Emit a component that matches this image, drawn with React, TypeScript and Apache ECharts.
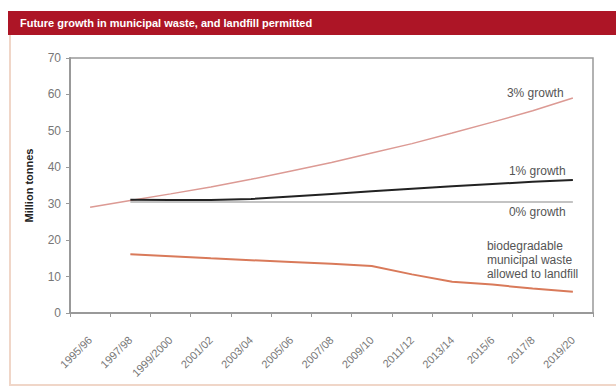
import React, { useEffect, useRef } from "react";
import * as echarts from "echarts";

const categories = [
  "1995/96", "1997/98", "1999/2000", "2001/02", "2003/04", "2005/06", "2007/08",
  "2009/10", "2011/12", "2013/14", "2015/6", "2017/8", "2019/20",
];
const growth3 = [29.0, 30.9, 32.7, 34.6, 36.7, 39.0, 41.3, 43.9, 46.5, 49.4, 52.4, 55.5, 59.0];
const growth1 = [null, 31.1, 31.0, 31.0, 31.3, 32.0, 32.7, 33.4, 34.1, 34.8, 35.4, 36.0, 36.5];
const growth0 = [null, 30.5, 30.5, 30.5, 30.5, 30.5, 30.5, 30.5, 30.5, 30.5, 30.5, 30.5, 30.5];
const biodegradable = [null, 16.1, 15.6, 15.0, 14.5, 14.0, 13.5, 12.9, 10.6, 8.6, 7.8, 6.7, 5.8];
const yTicks = { min: 0, max: 70, interval: 10 };
const title = "Future growth in municipal waste, and landfill permitted";

const FONT = "'Liberation Sans', Arial, sans-serif";

export default function App() {
  const ref = useRef<HTMLDivElement>(null);
  useEffect(() => {
    if (!ref.current) return;
    const chart = echarts.init(ref.current, null, { renderer: "svg" });
    const labelStyle = { color: "#555", fontSize: 12, fontFamily: FONT };
    chart.setOption({
      animation: false,
      backgroundColor: "#fff",
      textStyle: { fontFamily: FONT },
      graphic: [
        { type: "rect", shape: { x: 8, y: 11, width: 608, height: 24 }, style: { fill: "#ad1526" }, silent: true },
        { type: "text", x: 20, y: 23, style: { text: title, fill: "#fff", font: `bold 11px ${FONT}`, verticalAlign: "middle" } },
        { type: "polyline", shape: { points: [[10, 35], [10, 385], [616, 385]] }, style: { stroke: "#f0d6c8", lineWidth: 2, fill: "none" } },
      ],
      grid: { left: 70, right: 23, top: 58, bottom: 75, show: true, borderColor: "#999", borderWidth: 1.5 },
      xAxis: {
        type: "category",
        data: categories,
        boundaryGap: true,
        axisLine: { lineStyle: { color: "#999", width: 2 } },
        axisTick: { show: true, length: 4, lineStyle: { color: "#999" } },
        axisLabel: { rotate: 45, margin: 25, color: "#777", fontSize: 11, fontFamily: FONT, interval: 0 },
        splitLine: { show: false },
      },
      yAxis: {
        type: "value",
        ...yTicks,
        name: "Million tonnes",
        nameLocation: "middle",
        nameRotate: 90,
        nameGap: 36,
        nameTextStyle: { fontWeight: "bold", fontSize: 11, color: "#222", fontFamily: FONT },
        axisLine: { show: true, lineStyle: { color: "#999", width: 2 } },
        axisTick: { show: true, length: 4, lineStyle: { color: "#999" } },
        axisLabel: { margin: 9, color: "#777", fontSize: 12, fontFamily: FONT },
        splitLine: { show: false },
      },
      series: [
        {
          name: "3% growth", type: "line", data: growth3, symbol: "none",
          lineStyle: { color: "#dc9a94", width: 1.5 },
          endLabel: { show: true, formatter: "3% growth", offset: [-74, -5], ...labelStyle },
        },
        {
          name: "0% growth", type: "line", data: growth0, symbol: "none",
          lineStyle: { color: "#b0b0b0", width: 1.5 },
          endLabel: { show: true, formatter: "0% growth", offset: [-72, 10], ...labelStyle },
        },
        {
          name: "1% growth", type: "line", data: growth1, symbol: "none",
          lineStyle: { color: "#222", width: 2 },
          endLabel: { show: true, formatter: "1% growth", offset: [-72, -9], ...labelStyle },
        },
        {
          name: "biodegradable", type: "line", data: biodegradable, symbol: "none",
          lineStyle: { color: "#d97a5a", width: 2 },
          endLabel: {
            show: true,
            formatter: "biodegradable\nmunicipal waste\nallowed to landfill",
            offset: [-94, -32], lineHeight: 14, ...labelStyle,
          },
        },
      ],
    });
    return () => chart.dispose();
  }, []);
  return <div ref={ref} style={{ position: "fixed", left: 0, top: 0, width: 616, height: 388 }} />;
}
